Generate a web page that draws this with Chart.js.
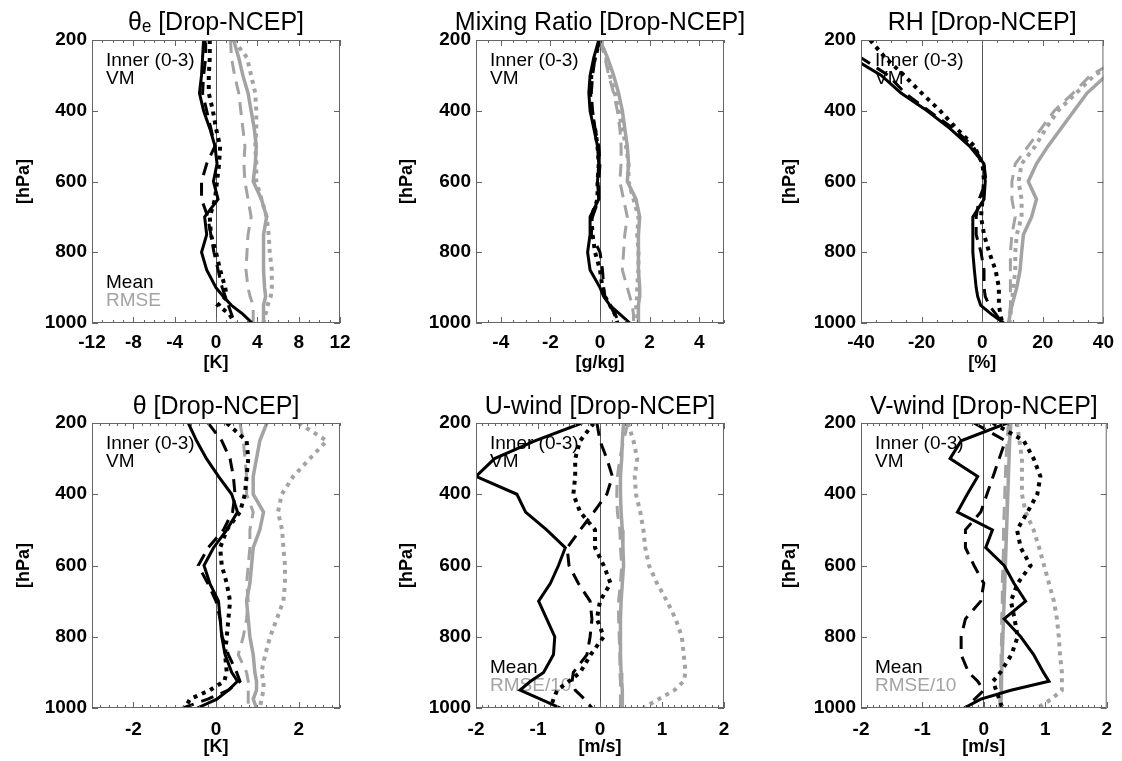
<!DOCTYPE html>
<html lang="en">
<head>
<meta charset="UTF-8">
<title>Drop-NCEP profiles</title>
<script src="https://cdn.jsdelivr.net/npm/chart.js"></script>
<style>
  body { margin: 0; background: #fff; }
  #wrap { position: relative; width: 1122px; height: 761px; }
  canvas { position: absolute; }
</style>
</head>
<body>
<div id="wrap">
  <canvas id="p1" width="374" height="380" style="left:0px;top:0px"></canvas>
  <canvas id="p2" width="374" height="380" style="left:374px;top:0px"></canvas>
  <canvas id="p3" width="374" height="380" style="left:748px;top:0px"></canvas>
  <canvas id="p4" width="374" height="381" style="left:0px;top:380px"></canvas>
  <canvas id="p5" width="374" height="381" style="left:374px;top:380px"></canvas>
  <canvas id="p6" width="374" height="381" style="left:748px;top:380px"></canvas>
</div>
<script>
// pressure levels [hPa]
const levels = [200, 250, 300, 350, 400, 450, 500, 550, 600, 650, 700, 750, 800, 850, 900, 925, 950, 975, 1000];
const pressureTicks = [200, 400, 600, 800, 1000];

// theta-e [K]
const thetaeTicks = [-12, -8, -4, 0, 4, 8, 12];
const thetaeMeanSolid  = [-1.2, -1.3, -1.4, -1.6, -1.2, -0.6, -0.1, 0.1, -0.25, 0.2, -1.1, -0.9, -1.4, -0.9, 0.0, 0.7, 1.5, 2.6, 3.5];
const thetaeMeanDashed = [-1.0, -1.0, -1.2, -1.3, -0.9, -0.5, -0.1, -0.9, -1.4, -1.4, -0.8, -0.5, -0.2, 0.2, 0.6, 0.9, 1.2, 1.5, 1.8];
const thetaeMeanDotted = [-0.6, -0.6, -0.7, -0.7, -0.3, 0.0, 0.4, 0.3, 0.1, -0.1, -0.6, -0.5, 0.0, 0.4, 0.9, 1.0, 0.2, 1.3, 1.8];
const thetaeRmseSolid  = [1.7, 2.2, 2.6, 3.1, 3.4, 3.7, 3.9, 3.8, 3.6, 4.4, 4.9, 4.6, 4.6, 4.6, 4.7, 4.8, 4.6, 4.6, 4.6];
const thetaeRmseDashed = [1.4, 1.5, 1.8, 2.2, 2.4, 2.6, 2.8, 2.7, 2.8, 3.1, 3.4, 3.1, 3.0, 2.9, 3.1, 3.3, 3.6, 3.6, 3.6];
const thetaeRmseDotted = [1.7, 3.0, 3.4, 3.8, 3.9, 3.9, 3.8, 3.9, 3.9, 4.4, 4.9, 5.1, 5.2, 5.4, 5.4, 5.3, 5.0, 4.8, 4.6];

// mixing ratio [g/kg]
const mixTicks = [-4, -2, 0, 2, 4];
const mixMeanSolid  = [-0.05, -0.25, -0.4, -0.45, -0.4, -0.25, -0.1, -0.05, -0.1, -0.05, -0.4, -0.4, -0.5, -0.4, 0.0, 0.15, 0.4, 0.8, 1.2];
const mixMeanDashed = [0.0, -0.2, -0.3, -0.35, -0.3, -0.2, -0.05, 0.0, -0.05, -0.05, -0.3, -0.35, 0.0, 0.1, 0.15, 0.2, 0.4, 0.6, 0.8];
const mixMeanDotted = [0.0, -0.2, -0.35, -0.4, -0.35, -0.2, -0.1, -0.05, -0.1, -0.1, -0.35, -0.3, -0.2, 0.0, 0.1, 0.2, 0.4, 0.6, 0.7];
const mixRmseSolid  = [0.0, 0.3, 0.55, 0.75, 0.9, 1.0, 1.1, 1.15, 1.1, 1.45, 1.6, 1.55, 1.55, 1.55, 1.6, 1.6, 1.55, 1.55, 1.55];
const mixRmseDashed = [0.0, 0.2, 0.35, 0.55, 0.7, 0.8, 0.85, 0.85, 0.8, 0.95, 1.1, 1.0, 0.95, 0.9, 1.1, 1.2, 1.3, 1.35, 1.35];
const mixRmseDotted = [0.05, 0.25, 0.4, 0.6, 0.75, 0.9, 1.05, 1.15, 1.15, 1.35, 1.55, 1.5, 1.55, 1.55, 1.5, 1.5, 1.45, 1.5, 1.5];

// RH [%]
const rhTicks = [-40, -20, 0, 20, 40];
const rhMeanSolid  = [-48, -43, -33.3, -26.8, -18.2, -10.7, -4.2, 0.6, 1.0, 0.6, -3.1, -3.1, -3.1, -2.6, -2.0, -1.5, -0.5, 3.0, 7.1];
const rhMeanDashed = [-45, -40, -31, -25.5, -17.7, -9.6, -3.1, 0.6, 1.2, -1.0, -2.0, -2.0, -0.4, 0.6, 0.6, 1.0, 2.3, 4.5, 6.6];
const rhMeanDotted = [-37, -32, -25.8, -20, -13.9, -8.5, -2.6, 0.1, 0.6, 0.1, -0.4, 0.6, 2.3, 4.4, 5.5, 5.5, 5.5, 6.0, 6.6];
const rhRmseSolid  = [55, 48, 41, 34.6, 30.3, 26, 21.7, 17.9, 15.2, 17.9, 16.3, 13.6, 13, 12.5, 11.4, 10.6, 9.8, 9.2, 8.7];
const rhRmseDashed = [52, 46, 35.7, 30, 23.8, 19.5, 15.2, 10.9, 9.8, 9.8, 10.9, 9.8, 9.3, 9.3, 9.3, 9.3, 9.3, 9.0, 8.7];
const rhRmseDotted = [53, 47, 37, 31, 25, 21, 17.5, 13, 12, 13, 13, 11.4, 10.9, 10.9, 10.3, 10, 9.8, 9.3, 9];

// theta [K]
const thetaTicks = [-2, 0, 2];
const thetaMeanSolid  = [-0.67, -0.47, -0.23, 0.06, 0.38, 0.52, 0.26, -0.06, -0.29, -0.15, 0.06, 0.1, 0.14, 0.22, 0.38, 0.52, 0.3, 0.02, -0.45];
const thetaMeanDashed = [-0.19, 0.14, 0.34, 0.42, 0.46, 0.4, 0.18, -0.19, -0.43, -0.2, 0.0, 0.1, 0.15, 0.3, 0.5, 0.58, 0.3, -0.2, -0.8];
const thetaMeanDotted = [0.26, 0.74, 0.78, 0.74, 0.7, 0.58, 0.26, 0.1, 0.14, 0.26, 0.34, 0.3, 0.26, 0.22, 0.26, 0.2, -0.15, -0.63, -0.75];
const thetaRmseSolid  = [1.23, 1.06, 0.98, 0.9, 0.9, 1.15, 1.06, 0.9, 0.86, 0.82, 0.74, 0.78, 0.82, 0.9, 0.94, 0.98, 0.98, 0.9, 0.98];
const thetaRmseDashed = [0.58, 0.66, 0.7, 0.74, 0.74, 0.9, 0.82, 0.82, 0.78, 0.74, 0.78, 0.74, 0.66, 0.54, 0.74, 0.78, 0.78, 0.78, 0.78];
const thetaRmseDotted = [2.0, 2.68, 2.27, 1.87, 1.59, 1.5, 1.6, 1.63, 1.67, 1.67, 1.63, 1.47, 1.31, 1.19, 1.1, 1.15, 1.15, 1.1, 1.06];

// U-wind [m/s], RMSE divided by 10
const windTicks = [-2, -1, 0, 1, 2];
const uMeanSolid  = [-0.29, -1.05, -1.7, -2.0, -1.34, -1.2, -0.86, -0.56, -0.67, -0.8, -0.99, -0.86, -0.73, -0.75, -0.91, -1.12, -1.29, -0.96, -0.64];
const uMeanDashed = [-0.05, 0.0, 0.11, 0.2, 0.11, -0.1, -0.32, -0.53, -0.5, -0.35, -0.16, -0.13, -0.16, -0.21, -0.43, -0.45, -0.4, -0.25, -0.13];
const uMeanDotted = [-0.1, -0.32, -0.4, -0.4, -0.43, -0.32, -0.08, -0.08, 0.06, 0.17, 0.0, -0.05, 0.06, -0.15, -0.32, -0.5, -0.69, -0.75, -0.8];
const uRmseSolid  = [0.38, 0.36, 0.35, 0.33, 0.33, 0.34, 0.36, 0.37, 0.38, 0.36, 0.34, 0.33, 0.33, 0.33, 0.34, 0.35, 0.36, 0.36, 0.36];
const uRmseDashed = [0.45, 0.38, 0.32, 0.28, 0.27, 0.28, 0.32, 0.33, 0.35, 0.33, 0.3, 0.3, 0.31, 0.32, 0.32, 0.33, 0.33, 0.33, 0.33];
const uRmseDotted = [0.45, 0.54, 0.6, 0.56, 0.58, 0.65, 0.7, 0.73, 0.79, 0.92, 1.08, 1.22, 1.32, 1.35, 1.38, 1.35, 1.2, 0.95, 0.7];

// V-wind [m/s], RMSE divided by 10
const vMeanSolid  = [0.38, -0.37, -0.55, -0.1, -0.27, -0.43, 0.14, 0.03, 0.33, 0.49, 0.68, 0.33, 0.6, 0.81, 0.97, 1.06, 0.44, -0.05, -0.32];
const vMeanDashed = [-0.16, 0.35, 0.25, 0.15, 0.05, -0.05, -0.3, -0.3, -0.16, 0.0, -0.05, -0.3, -0.37, -0.37, -0.25, -0.1, 0.0, -0.15, -0.3];
const vMeanDotted = [0.15, 0.65, 0.81, 0.92, 0.87, 0.71, 0.54, 0.6, 0.76, 0.55, 0.44, 0.5, 0.55, 0.45, 0.27, 0.15, 0.2, 0.25, 0.3];
const vRmseSolid  = [0.44, 0.42, 0.41, 0.4, 0.39, 0.38, 0.37, 0.36, 0.35, 0.34, 0.33, 0.32, 0.31, 0.3, 0.29, 0.29, 0.28, 0.28, 0.27];
const vRmseDashed = [0.4, 0.38, 0.36, 0.35, 0.34, 0.33, 0.32, 0.32, 0.31, 0.3, 0.3, 0.29, 0.29, 0.28, 0.28, 0.27, 0.27, 0.26, 0.26];
const vRmseDotted = [0.54, 0.58, 0.62, 0.62, 0.62, 0.68, 0.81, 0.9, 0.98, 1.06, 1.14, 1.19, 1.22, 1.24, 1.27, 1.27, 1.27, 1.1, 0.87];

const FONT = "'Liberation Sans', Arial, Helvetica, sans-serif";
const BLACK = '#000';
const GRAY = '#a3a3a3';

// line styles: mean (black) then RMSE (grey); solid, dashed, dotted
const lineStyles = [
    { label: 'Mean',        color: BLACK, dash: [],      width: 3 },
    { label: 'Mean Inner',  color: BLACK, dash: [13, 8], width: 3 },
    { label: 'Mean VM',     color: BLACK, dash: [4, 5],  width: 4 },
    { label: 'RMSE',        color: GRAY,  dash: [],      width: 3.5 },
    { label: 'RMSE Inner',  color: GRAY,  dash: [13, 8], width: 3 },
    { label: 'RMSE VM',     color: GRAY,  dash: [4, 5],  width: 4 }
];

// plot box positions inside each canvas, by column and row
const colBox = [
    { left: 92,  right: 340, yTitleX: 24 },
    { left: 102, right: 350, yTitleX: 33 },
    { left: 113, right: 360, yTitleX: 42 }
];
const rowBox = [
    { top: 40, bottom: 323, h: 380, titleY: 23,   xTitleY: 363,   labelPad: 8 },
    { top: 43, bottom: 328, h: 381, titleY: 27.5, xTitleY: 367.5, labelPad: 10 }
];

const panels = [
    { id: 'p1', col: 0, row: 0, title: 'θₑ [Drop-NCEP]', unit: '[K]', min: -12, max: 12, ticks: thetaeTicks, minor: 1,
      rmse: 'RMSE', series: [thetaeMeanSolid, thetaeMeanDashed, thetaeMeanDotted, thetaeRmseSolid, thetaeRmseDashed, thetaeRmseDotted] },
    { id: 'p2', col: 1, row: 0, title: 'Mixing Ratio [Drop-NCEP]', unit: '[g/kg]', min: -5, max: 5, ticks: mixTicks, minor: 0.5,
      rmse: null, series: [mixMeanSolid, mixMeanDashed, mixMeanDotted, mixRmseSolid, mixRmseDashed, mixRmseDotted] },
    { id: 'p3', col: 2, row: 0, title: 'RH [Drop-NCEP]', unit: '[%]', min: -40, max: 40, ticks: rhTicks, minor: 5,
      rmse: null, series: [rhMeanSolid, rhMeanDashed, rhMeanDotted, rhRmseSolid, rhRmseDashed, rhRmseDotted] },
    { id: 'p4', col: 0, row: 1, title: 'θ [Drop-NCEP]', unit: '[K]', min: -3, max: 3, ticks: thetaTicks, minor: 0.2,
      rmse: null, series: [thetaMeanSolid, thetaMeanDashed, thetaMeanDotted, thetaRmseSolid, thetaRmseDashed, thetaRmseDotted] },
    { id: 'p5', col: 1, row: 1, title: 'U-wind [Drop-NCEP]', unit: '[m/s]', min: -2, max: 2, ticks: windTicks, minor: 0.1,
      rmse: 'RMSE/10', series: [uMeanSolid, uMeanDashed, uMeanDotted, uRmseSolid, uRmseDashed, uRmseDotted] },
    { id: 'p6', col: 2, row: 1, title: 'V-wind [Drop-NCEP]', unit: '[m/s]', min: -2, max: 2, ticks: windTicks, minor: 0.1,
      rmse: 'RMSE/10', series: [vMeanSolid, vMeanDashed, vMeanDotted, vRmseSolid, vRmseDashed, vRmseDotted] }
];

// panel title, box, inward ticks and the in-panel labels
const framePlugin = {
    id: 'frame',
    beforeDatasetsDraw(chart, args, opts) {
        const { ctx, chartArea: a } = chart;
        ctx.save();
        // title is wider than the plot box in the original, so it is drawn here without a width limit
        ctx.font = '25px ' + FONT;
        ctx.textAlign = 'center';
        ctx.textBaseline = 'middle';
        ctx.fillStyle = BLACK;
        ctx.fillText(opts.title, (a.left + a.right) / 2, opts.titleY);

        ctx.font = '19px ' + FONT;
        ctx.textAlign = 'left';
        ctx.fillText('Inner (0-3)', a.left + 14, a.top + 21);
        ctx.fillText('VM', a.left + 14, a.top + 39);
        if (opts.rmse) {
            ctx.fillText('Mean', a.left + 14, a.bottom - 40);
            ctx.fillStyle = GRAY;
            ctx.fillText(opts.rmse, a.left + 14, a.bottom - 22);
        }
        ctx.restore();
    },
    afterDatasetsDraw(chart, args, opts) {
        const { ctx, chartArea: a } = chart;
        const xs = chart.scales.x, ys = chart.scales.y;
        ctx.save();
        ctx.strokeStyle = '#666';
        ctx.lineWidth = 1;
        ctx.strokeRect(a.left + 0.5, a.top + 0.5, a.width - 1, a.height - 1);
        ctx.beginPath();
        const n = Math.round((xs.max - xs.min) / opts.minor);
        for (let i = 0; i <= n; i++) {
            const v = xs.min + i * opts.minor;
            const major = opts.ticks.some(t => Math.abs(t - v) < opts.minor / 10);
            const len = major ? 6 : 3;
            const px = Math.round(xs.getPixelForValue(v)) + 0.5;
            ctx.moveTo(px, a.bottom); ctx.lineTo(px, a.bottom - len);
            ctx.moveTo(px, a.top); ctx.lineTo(px, a.top + len);
        }
        pressureTicks.forEach(p => {
            const py = Math.round(ys.getPixelForValue(p)) + 0.5;
            ctx.moveTo(a.left, py); ctx.lineTo(a.left + 6, py);
            ctx.moveTo(a.right, py); ctx.lineTo(a.right - 6, py);
        });
        ctx.stroke();
        ctx.restore();
    }
};

function makeChart(p) {
    const c = colBox[p.col], r = rowBox[p.row];
    const canvas = document.getElementById(p.id);
    const axisSize = 18, tickSize = 19;

    new Chart(canvas, {
        type: 'scatter',
        data: {
            datasets: p.series.map((vals, i) => ({
                label: lineStyles[i].label,
                data: levels.map((lv, j) => ({ x: vals[j], y: lv })),
                showLine: true,
                borderColor: lineStyles[i].color,
                backgroundColor: lineStyles[i].color,
                borderDash: lineStyles[i].dash,
                borderWidth: lineStyles[i].width,
                pointRadius: 0,
                tension: 0,
                clip: 0
            }))
        },
        options: {
            responsive: false,
            animation: false,
            layout: { padding: { left: 0, right: 374 - c.right, top: r.top, bottom: 0 } },
            plugins: {
                legend: { display: false },
                tooltip: { enabled: false },
                title: { display: false },
                frame: { title: p.title, titleY: r.titleY, rmse: p.rmse, minor: p.minor, ticks: p.ticks }
            },
            scales: {
                x: {
                    type: 'linear',
                    min: p.min,
                    max: p.max,
                    afterBuildTicks: s => { s.ticks = p.ticks.map(v => ({ value: v })); },
                    afterFit: s => { s.height = r.h - r.bottom; },
                    border: { display: false },
                    grid: {
                        drawTicks: false,
                        lineWidth: 1,
                        color: ctx => (ctx.tick && ctx.tick.value === 0) ? '#555' : 'rgba(0,0,0,0)'
                    },
                    ticks: { color: BLACK, padding: r.labelPad, maxRotation: 0, callback: v => String(v),
                             font: { family: FONT, size: tickSize, weight: 'bold' } },
                    title: {
                        display: true, text: p.unit, color: BLACK,
                        font: { family: FONT, size: axisSize, weight: 'bold' },
                        padding: { top: 0, bottom: (r.h - r.xTitleY) - axisSize * 1.2 / 2 }
                    }
                },
                y: {
                    type: 'linear',
                    reverse: true,
                    min: 200,
                    max: 1000,
                    afterBuildTicks: s => { s.ticks = pressureTicks.map(v => ({ value: v })); },
                    afterFit: s => { s.width = c.left; },
                    border: { display: false },
                    grid: { display: false, drawTicks: false },
                    ticks: { color: BLACK, padding: 5, callback: v => String(v),
                             font: { family: FONT, size: tickSize, weight: 'bold' } },
                    title: {
                        display: true, text: '[hPa]', color: BLACK,
                        font: { family: FONT, size: axisSize, weight: 'bold' },
                        padding: { top: c.yTitleX - axisSize * 1.2 / 2, bottom: 0 }
                    }
                }
            }
        },
        plugins: [framePlugin]
    });
}

panels.forEach(makeChart);
</script>
</body>
</html>
